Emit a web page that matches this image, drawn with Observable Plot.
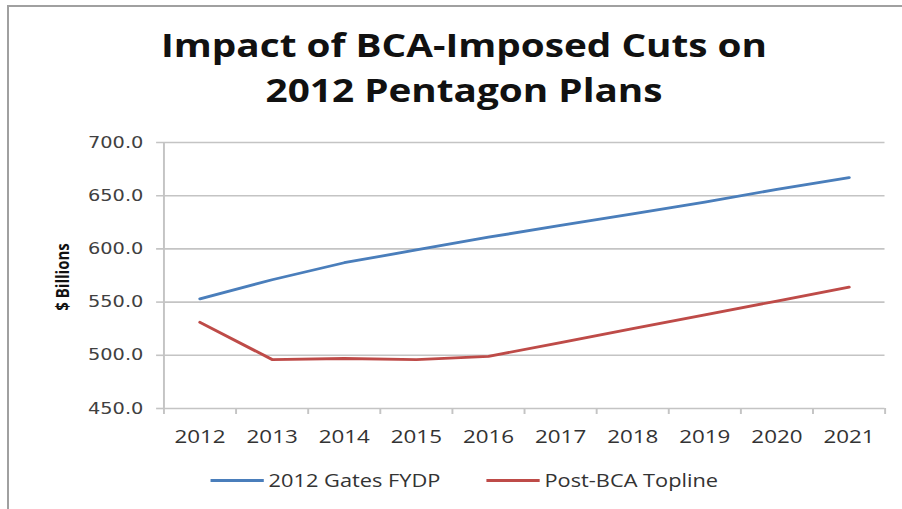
<!DOCTYPE html>
<html>
<head>
<meta charset="utf-8">
<script src="https://cdn.jsdelivr.net/npm/d3@7"></script>
<script src="https://cdn.jsdelivr.net/npm/@observablehq/plot@0.6"></script>
<style>
  html, body { margin: 0; padding: 0; background: #fff; }
  #frame { position: relative; width: 902px; height: 509px; overflow: hidden; }
  #border { position: absolute; left: 7px; top: 5px; width: 900px; height: 520px; border-left: 2px solid #a0a0a0; border-top: 2px solid #a0a0a0; }
  /* the reference picture is stretched horizontally; draw in a narrower frame and widen it */
  #inner { position: absolute; left: 0; top: 0; width: 745px; height: 509px; transform: scaleX(1.21); transform-origin: 0 0; }
  .title { position: absolute; left: 0; width: 767px; text-align: center; font-family: "Open Sans", sans-serif; font-weight: 700; font-size: 32px; line-height: 40px; color: #111; }
  #chart { position: absolute; left: 0; top: 120px; }
  #ylab { position: absolute; left: 51px; top: 277px; transform: translate(-50%, -50%) rotate(-90deg); font-family: "Open Sans", sans-serif; font-weight: 700; font-size: 15px; color: #111; white-space: nowrap; }
  .leg { position: absolute; top: 468px; height: 24px; font-family: "Open Sans", sans-serif; font-size: 18px; line-height: 24px; color: #333; white-space: nowrap; display: flex; align-items: center; }
  .sw { display: inline-block; width: 44px; height: 3px; margin-right: 4px; }
</style>
</head>
<body>
<div id="frame">
  <div id="border"></div>
  <div id="inner">
    <div class="title" style="top:25px">Impact of BCA-Imposed Cuts on</div>
    <div class="title" style="top:70px">2012 Pentagon Plans</div>
    <div id="chart"></div>
    <div id="ylab">$ Billions</div>
    <div class="leg" style="left:174px"><span class="sw" style="background:#4a7ebb"></span>2012 Gates FYDP</div>
    <div class="leg" style="left:402px"><span class="sw" style="background:#be4b48"></span>Post-BCA Topline</div>
  </div>
</div>
<script>
const years = [2012, 2013, 2014, 2015, 2016, 2017, 2018, 2019, 2020, 2021];
const gatesFYDP = [553, 571, 587, 599, 611, 622, 633, 644, 656, 667];
const postBCA = [531, 496, 497, 496, 499, 512, 525, 538, 551, 564];
const yTicks = [450, 500, 550, 600, 650, 700];

const seriesNames = ["2012 Gates FYDP", "Post-BCA Topline"];
const seriesColors = ["#4a7ebb", "#be4b48"];
const data = [
  ...years.map((yr, i) => ({year: yr, value: gatesFYDP[i], series: seriesNames[0]})),
  ...years.map((yr, i) => ({year: yr, value: postBCA[i], series: seriesNames[1]}))
];
const boundaries = [...years.map(y => y - 0.5), years[years.length - 1] + 0.5];

const plot = Plot.plot({
  width: 745,
  height: 330,
  marginTop: 22,
  marginBottom: 42,
  marginLeft: 135,
  marginRight: 14,
  style: {fontFamily: "Open Sans, sans-serif", fontSize: "15px", color: "#404040", background: "transparent"},
  x: {domain: [years[0] - 0.5, years[years.length - 1] + 0.5], axis: null},
  y: {domain: [450, 700], axis: null},
  color: {domain: seriesNames, range: seriesColors},
  marks: [
    Plot.ruleY(yTicks, {x1: boundaries[0], x2: boundaries[boundaries.length - 1], stroke: "#c4c4c4", strokeWidth: 1.6}),
    Plot.ruleX([boundaries[0]], {y1: 450, y2: 700, stroke: "#c4c4c4", strokeWidth: 1.6}),
    Plot.axisY(yTicks, {anchor: "left", label: null, tickSize: 6, tickPadding: 11, tickFormat: d => d.toFixed(1), stroke: "#c4c4c4", strokeWidth: 1.6, fill: "#404040", fontSize: 16, fontFamily: "DejaVu Sans, sans-serif", style: "letter-spacing:1.2px"}),
    Plot.axisX(boundaries, {anchor: "bottom", label: null, tickSize: 6, tickFormat: () => "", stroke: "#c4c4c4", strokeWidth: 1.6}),
    Plot.axisX(years, {anchor: "bottom", label: null, tickSize: 0, tickPadding: 21, tickFormat: d => String(d), fill: "#333", fontSize: 18.5, fontFamily: "Open Sans, sans-serif"}),
    Plot.line(data, {x: "year", y: "value", z: "series", stroke: "series", strokeWidth: 2.8})
  ]
});
document.getElementById("chart").appendChild(plot);
</script>
</body>
</html>
